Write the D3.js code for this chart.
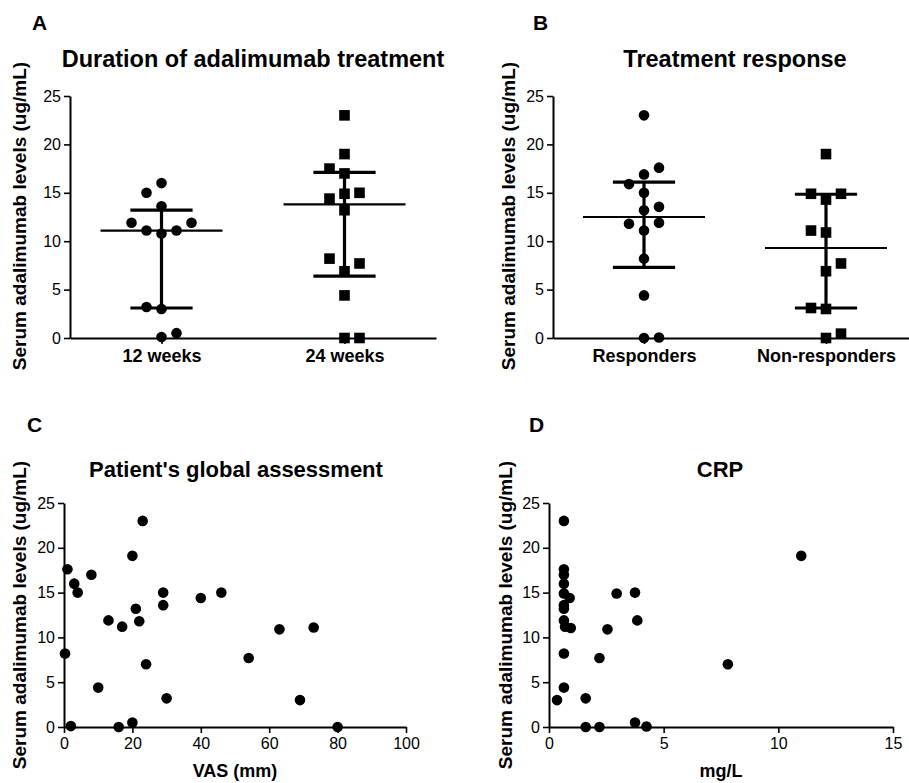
<!DOCTYPE html>
<html>
<head>
<meta charset="utf-8">
<script src="https://cdn.jsdelivr.net/npm/d3@7"></script>
<style>
  body { margin: 0; background: #fff; }
  svg text { font-family: "Liberation Sans", Arial, Helvetica, sans-serif; fill: #000; }
</style>
</head>
<body>
<svg id="chart" width="909" height="783"></svg>
<script>
// panel A: duration of treatment
const weeksCats = ["12 weeks", "24 weeks"];
const weeks12 = [16.0, 15.0, 13.6, 11.9, 11.9, 11.1, 10.8, 11.1, 3.2, 3.0, 0.1, 0.5];
const weeks12Slot = [0, -1, 0, -2, 2, -1, 0, 1, -1, 0, 0, 1];
const weeks24 = [23.0, 19.0, 17.5, 17.0, 15.0, 14.9, 14.4, 13.2, 8.2, 7.7, 6.9, 4.4, 0, 0];
const weeks24Slot = [0, 0, -1, 0, 1, 0, -1, 0, -1, 1, 0, 0, 0, 1];
const weeksMedian = [11.1, 13.8];
const weeksQ1 = [3.1, 6.4];
const weeksQ3 = [13.2, 17.1];

// panel B: treatment response
const respCats = ["Responders", "Non-responders"];
const responders = [23.0, 17.6, 16.9, 15.9, 15.0, 13.55, 13.2, 11.8, 11.9, 11.1, 8.2, 4.4, 0, 0.05];
const respondersSlot = [0, 1, 0, -1, 0, 1, 0, -1, 1, 0, 0, 0, 0, 1];
const nonResponders = [19.0, 14.9, 14.9, 14.3, 11.1, 10.9, 7.7, 6.9, 3.1, 3.0, 0.45, 0];
const nonRespondersSlot = [0, -1, 1, 0, -1, 0, 1, 0, -1, 0, 1, 0];
const respMedian = [12.5, 9.3];
const respQ1 = [7.3, 3.1];
const respQ3 = [16.1, 14.85];

// panel C: patient's global assessment
const vas = [0.3, 1, 3, 4, 2, 8, 10, 13, 16, 17, 20, 20, 21, 22, 23, 24, 29, 29, 30, 40, 46, 54, 63, 69, 73, 80];
const vasLevel = [8.2, 17.6, 16.0, 15.0, 0.1, 17.0, 4.4, 11.9, 0, 11.2, 19.1, 0.5, 13.2, 11.8, 23.0, 7.0, 15.0, 13.6, 3.2, 14.4, 15.0, 7.7, 10.9, 3.0, 11.1, 0];
const vasTicks = [0, 20, 40, 60, 80, 100];

// panel D: CRP
const crp = [0.65, 0.65, 0.65, 0.65, 0.65, 0.9, 0.65, 0.65, 0.65, 0.7, 0.95, 0.65, 0.65, 0.35, 1.6, 1.6, 2.2, 2.2, 2.55, 2.95, 3.75, 3.85, 3.75, 4.25, 7.8, 11.0];
const crpLevel = [23.0, 17.6, 17.0, 16.0, 14.9, 14.4, 13.6, 13.2, 11.9, 11.2, 11.05, 8.2, 4.4, 3.0, 3.2, 0, 0, 7.7, 10.9, 14.9, 15.0, 11.9, 0.5, 0.05, 7.0, 19.1];
const crpTicks = [0, 5, 10, 15];

const levelTicks = [0, 5, 10, 15, 20, 25];
const yLabel = "Serum adalimumab levels (ug/mL)";

const svg = d3.select("#chart");
const FONT_TICK = 16;
const FONT_LABEL = 18;

function styleAxis(g) {
  g.select(".domain").attr("stroke", "#000").attr("stroke-width", 2);
  g.selectAll(".tick line").attr("stroke", "#000").attr("stroke-width", 1.6);
  g.selectAll(".tick text").attr("font-size", FONT_TICK).attr("fill", "#000");
}

function panelFrame(p) {
  svg.append("text").attr("x", p.letterX).attr("y", p.letterY)
    .attr("font-size", 21).attr("font-weight", "bold").text(p.letter);
  svg.append("text").attr("x", p.titleX).attr("y", p.titleY)
    .attr("text-anchor", "middle").attr("font-size", p.titleSize).attr("font-weight", "bold").text(p.title);
  svg.append("text")
    .attr("transform", `translate(${p.yLabelX},${p.yLabelY}) rotate(-90)`)
    .attr("text-anchor", "middle").attr("dominant-baseline", "middle")
    .attr("font-size", 19).attr("font-weight", "bold").text(yLabel);
}

function yScaleFor(p) {
  return d3.scaleLinear().domain([0, 25]).range([p.bottom, p.top]);
}

function drawYAxis(p, y) {
  const g = svg.append("g").attr("transform", `translate(${p.left},0)`)
    .call(d3.axisLeft(y).tickValues(levelTicks).tickSize(6).tickSizeOuter(0).tickPadding(3));
  styleAxis(g);
}

function drawStrip(p) {
  panelFrame(p);
  const y = yScaleFor(p);
  const x = d3.scalePoint().domain(p.cats).range([p.left, p.right]).padding(0.5);
  const slot = d3.scaleLinear().domain([0, 1]).range([0, 15]);
  const half = d3.scaleLinear().domain([0, 1]).range([0, 61]);

  const gx = svg.append("g").attr("transform", `translate(0,${p.bottom})`)
    .call(d3.axisBottom(x).tickSize(6).tickSizeOuter(0).tickPadding(5));
  styleAxis(gx);
  gx.selectAll(".tick text").attr("font-size", FONT_LABEL).attr("font-weight", "bold");
  drawYAxis(p, y);

  p.cats.forEach((c, i) => {
    const cx = x(c);
    const g = svg.append("g");
    const vals = p.values[i];
    const slots = p.slots[i];
    if (p.shapes[i] === "circle") {
      g.selectAll("circle").data(vals).join("circle")
        .attr("cx", (d, j) => cx + slot(slots[j]))
        .attr("cy", d => y(d))
        .attr("r", 5.3).attr("fill", "#000");
    } else {
      g.selectAll("rect").data(vals).join("rect")
        .attr("x", (d, j) => cx + slot(slots[j]) - 5.3)
        .attr("y", d => y(d) - 5.3)
        .attr("width", 10.6).attr("height", 10.6).attr("fill", "#000");
    }
    // median with interquartile range
    g.append("line").attr("x1", cx).attr("x2", cx)
      .attr("y1", y(p.q1[i])).attr("y2", y(p.q3[i]))
      .attr("stroke", "#000").attr("stroke-width", 3.2);
    g.append("line").attr("x1", cx - half(1)).attr("x2", cx + half(1))
      .attr("y1", y(p.median[i])).attr("y2", y(p.median[i]))
      .attr("stroke", "#000").attr("stroke-width", 2.2);
    [p.q1[i], p.q3[i]].forEach(q => {
      g.append("line").attr("x1", cx - half(0.51)).attr("x2", cx + half(0.51))
        .attr("y1", y(q)).attr("y2", y(q))
        .attr("stroke", "#000").attr("stroke-width", 3.2);
    });
  });
}

function drawScatter(p) {
  panelFrame(p);
  const y = yScaleFor(p);
  const x = d3.scaleLinear().domain([0, p.xMax]).range([p.left, p.right]);

  const gx = svg.append("g").attr("transform", `translate(0,${p.bottom})`)
    .call(d3.axisBottom(x).tickValues(p.xTicks).tickSize(6).tickSizeOuter(0).tickPadding(5));
  styleAxis(gx);
  drawYAxis(p, y);

  svg.append("text").attr("x", (p.left + p.right) / 2).attr("y", p.bottom + 50)
    .attr("text-anchor", "middle").attr("font-size", FONT_LABEL).attr("font-weight", "bold")
    .text(p.xLabel);

  svg.append("g").selectAll("circle").data(p.xs).join("circle")
    .attr("cx", d => x(d))
    .attr("cy", (d, i) => y(p.ys[i]))
    .attr("r", 5.3).attr("fill", "#000");
}

drawStrip({
  letter: "A", letterX: 32, letterY: 30,
  title: "Duration of adalimumab treatment", titleX: 253, titleY: 67, titleSize: 23.5,
  yLabelX: 21, yLabelY: 216,
  left: 70, right: 436, top: 96, bottom: 338,
  cats: weeksCats, values: [weeks12, weeks24], slots: [weeks12Slot, weeks24Slot],
  shapes: ["circle", "square"], median: weeksMedian, q1: weeksQ1, q3: weeksQ3,
});

drawStrip({
  letter: "B", letterX: 533, letterY: 30,
  title: "Treatment response", titleX: 735, titleY: 67, titleSize: 23.5,
  yLabelX: 510, yLabelY: 216,
  left: 553, right: 917, top: 96, bottom: 338,
  cats: respCats, values: [responders, nonResponders], slots: [respondersSlot, nonRespondersSlot],
  shapes: ["circle", "square"], median: respMedian, q1: respQ1, q3: respQ3,
});

drawScatter({
  letter: "C", letterX: 27, letterY: 432,
  title: "Patient's global assessment", titleX: 236, titleY: 477, titleSize: 22,
  yLabelX: 21, yLabelY: 615,
  left: 64, right: 406, top: 503, bottom: 727,
  xMax: 100, xTicks: vasTicks, xLabel: "VAS (mm)", xs: vas, ys: vasLevel,
});

drawScatter({
  letter: "D", letterX: 529, letterY: 432,
  title: "CRP", titleX: 720, titleY: 477, titleSize: 22,
  yLabelX: 507, yLabelY: 615,
  left: 549, right: 893, top: 503, bottom: 727,
  xMax: 15, xTicks: crpTicks, xLabel: "mg/L", xs: crp, ys: crpLevel,
});
</script>
</body>
</html>
